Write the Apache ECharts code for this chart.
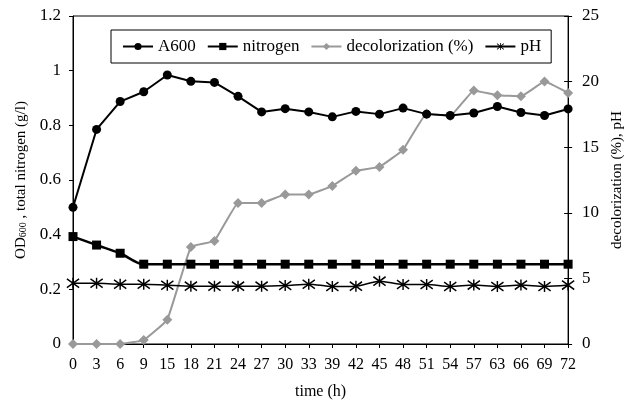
<!DOCTYPE html>
<html>
<head>
<meta charset="utf-8">
<script src="https://cdn.jsdelivr.net/npm/echarts@6/dist/echarts.min.js"></script>
<style>
html,body{margin:0;padding:0;background:#fff;}
#chart{width:633px;height:405px;}
</style>
</head>
<body>
<div id="chart"></div>
<script>
const categories = ['0','3','6','9','15','18','21','24','27','30','33','39','42','45','48','51','54','57','63','66','69','72'];
const a600 = [0.50,0.785,0.887,0.923,0.984,0.961,0.957,0.906,0.849,0.861,0.849,0.831,0.851,0.841,0.863,0.841,0.836,0.845,0.869,0.847,0.836,0.86];
const nitrogen = [0.393,0.362,0.332,0.292,0.292,0.292,0.292,0.292,0.292,0.292,0.292,0.292,0.292,0.292,0.292,0.292,0.292,0.292,0.292,0.292,0.292,0.292];
const decolorization = [0,0,0,0.3,1.85,7.4,7.86,10.75,10.75,11.4,11.4,12.05,13.2,13.5,14.8,17.57,17.37,19.33,18.96,18.88,20.0,19.14];
const pH = [4.63,4.63,4.56,4.56,4.48,4.41,4.41,4.41,4.41,4.46,4.56,4.38,4.41,4.79,4.53,4.53,4.38,4.49,4.38,4.49,4.38,4.49];
const leftTicks = {min:0, max:1.2, interval:0.2};
const rightTicks = {min:0, max:25, interval:5};

const FONT = 'Liberation Serif';
const starPath = 'path://M-0.7,-5L-0.7,5L0.7,5L0.7,-5Z' +
  'M-6.388,-3.417L5.612,4.583L6.388,3.417L-5.612,-4.583Z' +
  'M-5.612,4.583L6.388,-3.417L5.612,-4.583L-6.388,3.417Z';

const chart = echarts.init(document.getElementById('chart'), null, {renderer:'canvas'});
chart.setOption({
  animation:false,
  backgroundColor:'#fff',
  textStyle:{fontFamily:FONT, color:'#000'},
  grid:{left:73, right:62, top:16, bottom:58, show:true, borderColor:'#000', borderWidth:1, backgroundColor:'transparent'},
  legend:{
    left:111, top:30,
    padding:[8,10,8,11],
    borderColor:'#000', borderWidth:1,
    itemWidth:30, itemHeight:9, itemGap:11,
    textStyle:{fontFamily:FONT, fontSize:17, color:'#000'},
    data:['A600','nitrogen','decolorization (%)','pH']
  },
  xAxis:{
    type:'category', data:categories, boundaryGap:false,
    name:'time (h)', nameLocation:'middle', nameGap:40,
    nameTextStyle:{fontFamily:FONT, fontSize:16, color:'#000'},
    axisLine:{lineStyle:{color:'#000', width:1}},
    axisTick:{show:true, length:4, alignWithLabel:true, interval:0, lineStyle:{color:'#000'}},
    axisLabel:{interval:0, margin:13, fontFamily:FONT, fontSize:16, color:'#000'},
    splitLine:{show:false}
  },
  yAxis:[
    {
      type:'value', position:'left', min:leftTicks.min, max:leftTicks.max, interval:leftTicks.interval,
      name:'OD{s|600} , total nitrogen (g/l)', nameLocation:'middle', nameGap:30, nameRotate:90,
      nameTextStyle:{fontFamily:FONT, fontSize:15, color:'#000',
        rich:{s:{fontFamily:FONT, fontSize:10, color:'#000', verticalAlign:'bottom', padding:[4,0,0,0]}}},
      axisLine:{show:true, lineStyle:{color:'#000', width:1}},
      axisTick:{show:true, length:4, lineStyle:{color:'#000'}},
      axisLabel:{margin:12, fontFamily:FONT, fontSize:17, color:'#000'},
      splitLine:{show:false}
    },
    {
      type:'value', position:'right', min:rightTicks.min, max:rightTicks.max, interval:rightTicks.interval,
      name:'decolorization (%), pH', nameLocation:'middle', nameGap:36, nameRotate:90,
      nameTextStyle:{fontFamily:FONT, fontSize:15, color:'#000'},
      axisLine:{show:true, lineStyle:{color:'#000', width:1}},
      axisTick:{show:true, length:4, lineStyle:{color:'#000'}},
      axisLabel:{margin:14, fontFamily:FONT, fontSize:17, color:'#000'},
      splitLine:{show:false}
    },
    {
      type:'value', position:'right', min:rightTicks.min, max:rightTicks.max, interval:rightTicks.interval,
      axisLine:{show:false},
      axisTick:{show:true, inside:true, length:4, lineStyle:{color:'#000'}},
      axisLabel:{show:false},
      splitLine:{show:false}
    }
  ],
  series:[
    {
      name:'A600', type:'line', yAxisIndex:0, data:a600,
      symbol:'circle', symbolSize:9, showAllSymbol:true,
      lineStyle:{color:'#000', width:2},
      itemStyle:{color:'#000'}, z:5
    },
    {
      name:'nitrogen', type:'line', yAxisIndex:0, data:nitrogen,
      symbol:'rect', symbolSize:9, showAllSymbol:true, smooth:0.3,
      lineStyle:{color:'#000', width:2.5},
      itemStyle:{color:'#000'}, z:4
    },
    {
      name:'decolorization (%)', type:'line', yAxisIndex:1, data:decolorization,
      symbol:'diamond', symbolSize:10, showAllSymbol:true, smooth:0.08,
      lineStyle:{color:'#999999', width:2},
      itemStyle:{color:'#999999'}, z:3
    },
    {
      name:'pH', type:'line', yAxisIndex:1, data:pH,
      symbol:starPath, symbolSize:[13,11], showAllSymbol:true, smooth:0.3,
      lineStyle:{color:'#000', width:1.5},
      itemStyle:{color:'#000', borderWidth:0}, z:4
    }
  ]
});
</script>
</body>
</html>
